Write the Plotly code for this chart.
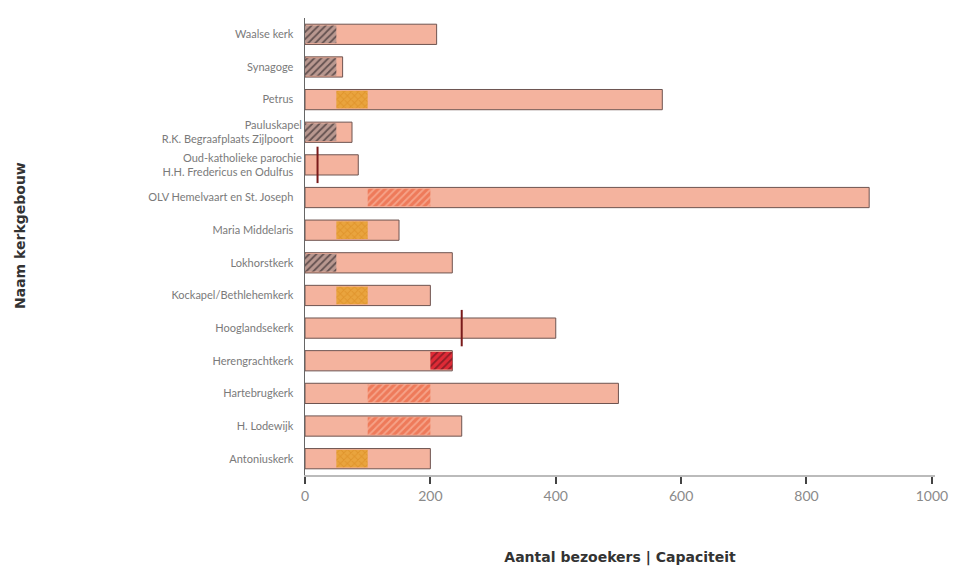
import plotly.graph_objects as go

churches = [
    "Waalse kerk", "Synagoge", "Petrus", "Pauluskapel<br>R.K. Begraafplaats Zijlpoort",
    "Oud-katholieke parochie<br>H.H. Fredericus en Odulfus", "OLV Hemelvaart en St. Joseph",
    "Maria Middelaris", "Lokhorstkerk", "Kockapel/Bethlehemkerk", "Hooglandsekerk",
    "Herengrachtkerk", "Hartebrugkerk", "H. Lodewijk", "Antoniuskerk",
]
capacity = [210, 60, 570, 75, 85, 900, 150, 235, 200, 400, 235, 500, 250, 200]

# visitor ranges (low, high) per group
grey_names = ["Waalse kerk", "Synagoge", "Pauluskapel<br>R.K. Begraafplaats Zijlpoort", "Lokhorstkerk"]
grey_low = [0, 0, 0, 0]
grey_high = [50, 50, 50, 50]

orange_names = ["Petrus", "Maria Middelaris", "Kockapel/Bethlehemkerk", "Antoniuskerk"]
orange_low = [50, 50, 50, 50]
orange_high = [100, 100, 100, 100]

redorange_names = ["OLV Hemelvaart en St. Joseph", "Hartebrugkerk", "H. Lodewijk"]
redorange_low = [100, 100, 100]
redorange_high = [200, 200, 200]

red_names = ["Herengrachtkerk"]
red_low = [200]
red_high = [235]

exact_names = ["Oud-katholieke parochie<br>H.H. Fredericus en Odulfus", "Hooglandsekerk"]
exact_values = [20, 250]

x_ticks = [0, 200, 400, 600, 800, 1000]

fig = go.Figure()
W = 0.62
fig.add_trace(go.Bar(
    y=churches, x=capacity, orientation="h", width=W,
    marker=dict(color="#F4B39E", line=dict(color="#6e5450", width=1)),
    showlegend=False,
))

def add_range(names, lows, highs, color, fg, shape, fgop=0.8):
    fig.add_trace(go.Bar(
        y=names, x=[h - l for l, h in zip(lows, highs)], base=lows, orientation="h",
        width=W - 0.08,
        marker=dict(color=color, line=dict(width=0),
                    pattern=dict(shape=shape, fgcolor=fg, bgcolor=color, size=5,
                                 solidity=0.35, fgopacity=fgop)),
        showlegend=False,
    ))

add_range(grey_names, grey_low, grey_high, "#B99890", "#4e4040", "/")
add_range(orange_names, orange_low, orange_high, "#E9A43E", "#D98A20", "x", 0.6)
add_range(redorange_names, redorange_low, redorange_high, "#EE7A5A", "#F7A88E", "/", 0.9)
add_range(red_names, red_low, red_high, "#E02A36", "#7a1a22", "/")

fig.add_trace(go.Scatter(
    y=exact_names, x=exact_values, mode="markers",
    marker=dict(symbol="line-ns", size=26, line=dict(color="#7a1a1a", width=2)),
    showlegend=False,
))

fig.update_layout(
    width=963, height=570,
    barmode="overlay",
    plot_bgcolor="white", paper_bgcolor="white",
    margin=dict(l=297, r=36, t=10, b=103),
    font=dict(family="Lato, sans-serif", color="#7a7a7a"),
    annotations=[dict(
        text="<b>Naam kerkgebouw</b>", textangle=-90, xref="paper", yref="paper",
        x=0, y=0.523, xanchor="center", yanchor="middle", xshift=-285, showarrow=False,
        font=dict(size=14, color="#333", family="DejaVu Sans, sans-serif"),
    )],
)
fig.update_xaxes(
    range=[0, 1005], tickvals=x_ticks, ticks="outside", ticklen=7, tickwidth=2,
    tickcolor="#444", showline=True, linecolor="#bbbbbb", linewidth=2,
    showgrid=False, zeroline=False, tickfont=dict(size=14, color="#8a8a8a"),
    title=dict(text="<b>Aantal bezoekers | Capaciteit</b>",
               font=dict(size=14, color="#333", family="DejaVu Sans, sans-serif"),
               standoff=49),
)
fig.update_yaxes(
    categoryorder="array", categoryarray=churches[::-1],
    showline=True, linecolor="#666", linewidth=1, ticks="", showgrid=False,
    tickfont=dict(size=11, color="#7a7a7a"), ticksuffix="   ",
)
fig.write_html("out.html")
